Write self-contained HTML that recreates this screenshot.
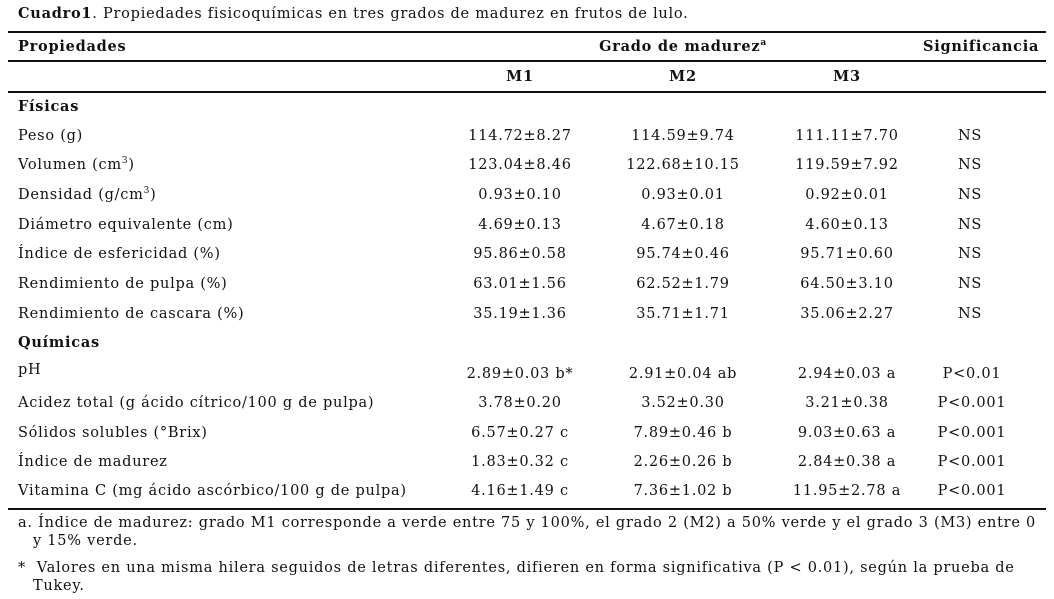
<!DOCTYPE html>
<html><head><meta charset="utf-8">
<style>
body{margin:0;background:#fff;width:1054px;height:599px;position:relative;overflow:hidden;font-family:"DejaVu Serif","Liberation Serif",serif;font-size:14.5px;color:#111;letter-spacing:0.75px}
.t{position:absolute;white-space:nowrap;line-height:18px}
.c{position:absolute;white-space:nowrap;line-height:18px;text-align:center;width:200px}
.l{position:absolute;left:8px;right:8px;height:2px;background:#111}
b{font-weight:bold}
sup{font-size:9px;line-height:0}
</style></head><body>
<div class="t" style="left:18px;top:5px"><b>Cuadro1</b>. Propiedades fisicoquímicas en tres grados de madurez en frutos de lulo.</div>
<div class="l" style="top:31px"></div>
<div class="t" style="left:18px;top:38px"><b>Propiedades</b></div>
<div class="c" style="left:583px;top:38px"><b>Grado de madurez<sup>a</sup></b></div>
<div class="t" style="left:923px;top:38px"><b>Significancia</b></div>
<div class="l" style="top:60px"></div>
<div class="c" style="left:420px;top:68px"><b>M1</b></div>
<div class="c" style="left:583px;top:68px"><b>M2</b></div>
<div class="c" style="left:747px;top:68px"><b>M3</b></div>
<div class="l" style="top:91px"></div>
<div class="t" style="left:18px;top:98px"><b>Físicas</b></div>

<div class="t" style="left:18px;top:127px">Peso (g)</div>
<div class="c" style="left:420px;top:127px">114.72±8.27</div><div class="c" style="left:583px;top:127px">114.59±9.74</div><div class="c" style="left:747px;top:127px">111.11±7.70</div><div class="c" style="left:870px;top:127px">NS</div>

<div class="t" style="left:18px;top:156px">Volumen (cm<sup>3</sup>)</div>
<div class="c" style="left:420px;top:156px">123.04±8.46</div><div class="c" style="left:583px;top:156px">122.68±10.15</div><div class="c" style="left:747px;top:156px">119.59±7.92</div><div class="c" style="left:870px;top:156px">NS</div>

<div class="t" style="left:18px;top:186px">Densidad (g/cm<sup>3</sup>)</div>
<div class="c" style="left:420px;top:186px">0.93±0.10</div><div class="c" style="left:583px;top:186px">0.93±0.01</div><div class="c" style="left:747px;top:186px">0.92±0.01</div><div class="c" style="left:870px;top:186px">NS</div>

<div class="t" style="left:18px;top:216px">Diámetro equivalente (cm)</div>
<div class="c" style="left:420px;top:216px">4.69±0.13</div><div class="c" style="left:583px;top:216px">4.67±0.18</div><div class="c" style="left:747px;top:216px">4.60±0.13</div><div class="c" style="left:870px;top:216px">NS</div>

<div class="t" style="left:18px;top:245px">Índice de esfericidad (%)</div>
<div class="c" style="left:420px;top:245px">95.86±0.58</div><div class="c" style="left:583px;top:245px">95.74±0.46</div><div class="c" style="left:747px;top:245px">95.71±0.60</div><div class="c" style="left:870px;top:245px">NS</div>

<div class="t" style="left:18px;top:275px">Rendimiento de pulpa (%)</div>
<div class="c" style="left:420px;top:275px">63.01±1.56</div><div class="c" style="left:583px;top:275px">62.52±1.79</div><div class="c" style="left:747px;top:275px">64.50±3.10</div><div class="c" style="left:870px;top:275px">NS</div>

<div class="t" style="left:18px;top:305px">Rendimiento de cascara (%)</div>
<div class="c" style="left:420px;top:305px">35.19±1.36</div><div class="c" style="left:583px;top:305px">35.71±1.71</div><div class="c" style="left:747px;top:305px">35.06±2.27</div><div class="c" style="left:870px;top:305px">NS</div>

<div class="t" style="left:18px;top:334px"><b>Químicas</b></div>

<div class="t" style="left:18px;top:361px">pH</div>
<div class="c" style="left:420px;top:365px">2.89±0.03 b*</div><div class="c" style="left:583px;top:365px">2.91±0.04 ab</div><div class="c" style="left:747px;top:365px">2.94±0.03 a</div><div class="c" style="left:872px;top:365px">P&lt;0.01</div>

<div class="t" style="left:18px;top:394px">Acidez total (g ácido cítrico/100 g de pulpa)</div>
<div class="c" style="left:420px;top:394px">3.78±0.20</div><div class="c" style="left:583px;top:394px">3.52±0.30</div><div class="c" style="left:747px;top:394px">3.21±0.38</div><div class="c" style="left:872px;top:394px">P&lt;0.001</div>

<div class="t" style="left:18px;top:424px">Sólidos solubles (°Brix)</div>
<div class="c" style="left:420px;top:424px">6.57±0.27 c</div><div class="c" style="left:583px;top:424px">7.89±0.46 b</div><div class="c" style="left:747px;top:424px">9.03±0.63 a</div><div class="c" style="left:872px;top:424px">P&lt;0.001</div>

<div class="t" style="left:18px;top:453px">Índice de madurez</div>
<div class="c" style="left:420px;top:453px">1.83±0.32 c</div><div class="c" style="left:583px;top:453px">2.26±0.26 b</div><div class="c" style="left:747px;top:453px">2.84±0.38 a</div><div class="c" style="left:872px;top:453px">P&lt;0.001</div>

<div class="t" style="left:18px;top:482px">Vitamina C (mg ácido ascórbico/100 g de pulpa)</div>
<div class="c" style="left:420px;top:482px">4.16±1.49 c</div><div class="c" style="left:583px;top:482px">7.36±1.02 b</div><div class="c" style="left:747px;top:482px">11.95±2.78 a</div><div class="c" style="left:872px;top:482px">P&lt;0.001</div>

<div class="l" style="top:508px"></div>
<div class="t" style="left:18px;top:514px">a. Índice de madurez: grado M1 corresponde a verde entre 75 y 100%, el grado 2 (M2) a 50% verde y el grado 3 (M3) entre 0</div>
<div class="t" style="left:33px;top:532px">y 15% verde.</div>
<div class="t" style="left:18px;top:559px">*&nbsp; Valores en una misma hilera seguidos de letras diferentes, difieren en forma significativa (P &lt; 0.01), según la prueba de</div>
<div class="t" style="left:33px;top:577px">Tukey.</div>
</body></html>
